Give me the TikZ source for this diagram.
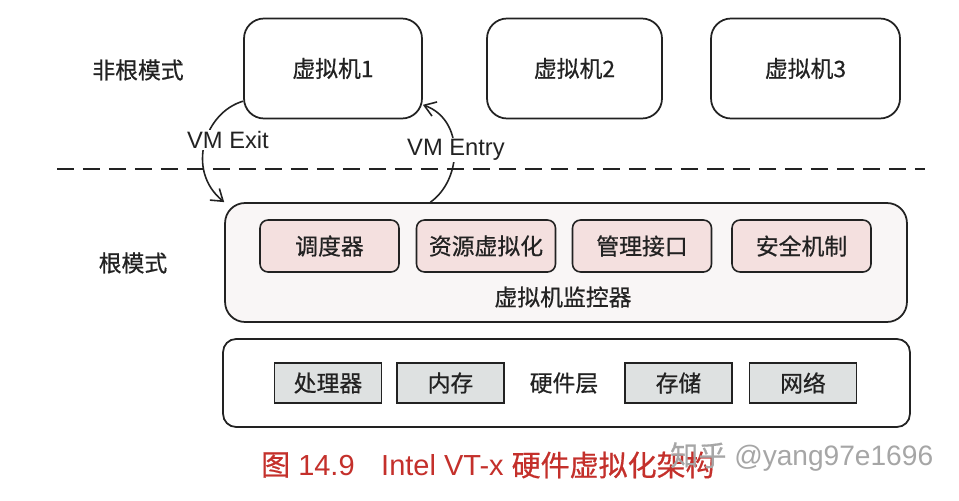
\documentclass[tikz,border=0pt]{standalone}
\usepackage{fontspec}
\setmainfont{Liberation Sans}
\newfontfamily\cjk[FakeBold=0.6]{Noto Sans CJK SC}
\usetikzlibrary{arrows.meta}
\definecolor{inkcol}{RGB}{34,34,34}
\definecolor{pinkfill}{RGB}{244,224,223}
\definecolor{vmmfill}{RGB}{249,246,246}
\definecolor{hwfill}{RGB}{222,225,225}
\definecolor{capred}{RGB}{196,48,43}
\begin{document}
\begin{tikzpicture}[x=0.02cm,y=-0.02cm,>={Straight Barb[length=2.2mm,width=3mm]},
  every node/.style={text=inkcol},
  txt/.style={font=\cjk\fontsize{13}{15}\selectfont},
  vmbox/.style={draw=inkcol,line width=1pt,rounded corners=0.4cm,minimum height=2cm,txt},
  modbox/.style={draw=inkcol,line width=0.9pt,fill=pinkfill,rounded corners=0.16cm,minimum width=2.78cm,minimum height=1.04cm,txt},
  hwbox/.style={draw=inkcol,line width=0.9pt,fill=hwfill,minimum width=2.14cm,minimum height=0.8cm,txt},
  trans/.style={->,draw=inkcol,line width=0.9pt}]
\useasboundingbox (0,0) rectangle (959,500);
\fill[white] (0,0) rectangle (959,500);
% non-root mode
\node[txt] (nonroot) at (138,70) {非根模式};
\foreach \nm/\x/\w/\t in {vm1/333/3.56/1, vm2/574.5/3.5/2, vm3/805.5/3.78/3}
{
    \node[vmbox,minimum width=\w cm] (\nm) at (\x,68.5) {虚拟机\t};
}
\coordinate (dashL) at (57,169);
\coordinate (dashR) at (925,169);
\draw[inkcol,line width=1.2pt,dash pattern=on 0.34cm off 0.18cm] (dashL)--(dashR);
% root mode
\node[txt] (root) at (133,263) {根模式};
\node[draw=inkcol,line width=1pt,fill=vmmfill,rounded corners=0.4cm,minimum width=13.64cm,minimum height=2.38cm] (vmm) at (566,262.5) {};
\foreach \nm/\x/\t in {sched/329.5/调度器, resv/486/资源虚拟化, mgmt/642/管理接口, sec/801.5/安全机制}
{
    \node[modbox] (\nm) at (\x,246) {\t};
}
\node[txt] (vmmtxt) at (563,297) {虚拟机监控器};
% hardware
\node[draw=inkcol,line width=1pt,fill=white,rounded corners=0.26cm,minimum width=13.74cm,minimum height=1.76cm] (hw) at (566.5,383) {};
\foreach \nm/\x/\t in {cpu/328/处理器, mem/450.5/内存, sto/678.5/存储, net/803/网络}
{
    \node[hwbox] (\nm) at (\x,383) {\t};
}
\node[txt] (hwtxt) at (564,383) {硬件层};
% transitions
\draw[trans] (vm1.200) .. controls (205,112) and (185,170) .. (vmm.north west);
\draw[trans] (vmm.156) .. controls (462,180) and (465,120) .. (vm1.338);
\node[fill=white,inner sep=1pt,font=\fontsize{13.5}{15}\selectfont] (exit) at (228,140) {VM Exit};
\node[fill=white,inner sep=1pt,font=\fontsize{13.5}{15}\selectfont] (entry) at (456,150) {VM Entry};
% caption
\node[anchor=west,text=capred,font=\fontsize{16.5}{18}\selectfont] (capnum) at (255,465) {{\cjk 图} 14.9};
\node[anchor=west,text=capred,font=\fontsize{16.5}{18}\selectfont] (captxt) at (375,465) {Intel VT-x {\cjk 硬件虚拟化架构}};
\node[anchor=west,text=black!35,font=\fontsize{16}{18}\selectfont] (mark) at (664,457) {{\cjk 知乎} @yang97e1696};
\end{tikzpicture}
\end{document}
